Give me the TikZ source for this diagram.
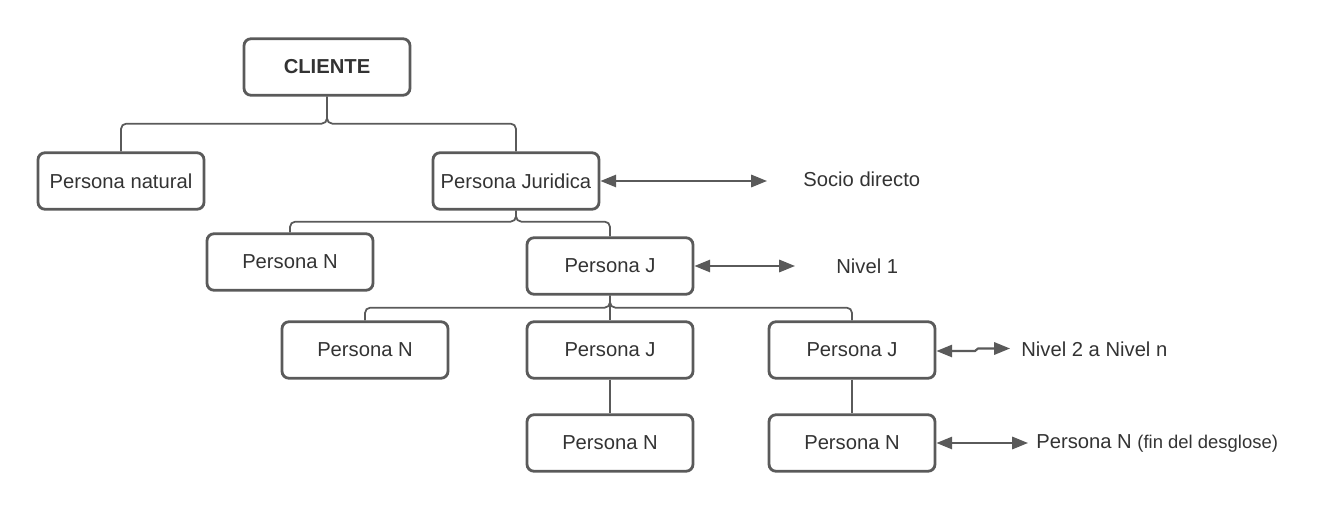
\documentclass[tikz,border=0pt]{standalone}
\usepackage{fontspec}
\setmainfont{Liberation Sans}
\usepackage{tikz}
\usetikzlibrary{arrows.meta}
\definecolor{linegray}{HTML}{5A5A5A}
\definecolor{textgray}{HTML}{333333}
\tikzset{
  box/.style = {rectangle, rounded corners=4pt, draw=linegray, line width=1.6pt,
    minimum width=3.32cm, minimum height=1.13cm, inner sep=0pt, text=textgray,
    font=\fontsize{11.5}{14}\selectfont},% node box
  lbl/.style = {anchor=west, inner sep=0pt, text=textgray,
    font=\fontsize{11.5}{14}\selectfont},% side label
  ln/.style = {draw=linegray, line width=1pt, rounded corners=3pt},
  dbl/.style = {draw=linegray, line width=1.2pt,
    {Triangle[length=9pt,width=7pt]}-{Triangle[length=9pt,width=7pt]}}
}
\begin{document}
\begin{tikzpicture}
\useasboundingbox (0,0) rectangle (26.62,-10.22);
% tree
\node [box, font=\fontsize{11.5}{14}\selectfont\bfseries] (cliente) at (6.54,-1.34) {CLIENTE};
\node [box] (natural) at (2.42,-3.62) {Persona natural};
\node [box] (juridica) at (10.32,-3.62) {Persona Juridica};
\node [box] (pn1) at (5.80,-5.24) {Persona N};
\node [box] (pj1) at (12.20,-5.32) {Persona J};
\node [box] (pn2) at (7.30,-7.00) {Persona N};
\node [box] (pj2) at (12.20,-7.00) {Persona J};
\node [box] (pj3) at (17.04,-7.00) {Persona J};
\node [box] (pn3) at (12.20,-8.86) {Persona N};
\node [box] (pn4) at (17.04,-8.86) {Persona N};

\draw [ln] (cliente.south) -- ++(0,-0.54) -| (natural.north);
\draw [ln] (cliente.south) -- ++(0,-0.54) -| (juridica.north);
\draw [ln] (juridica.south) -- ++(0,-0.22) -| (pn1.north);
\draw [ln] (juridica.south) -- ++(0,-0.22) -| (pj1.north);
\draw [ln] (pj1.south) -- ++(0,-0.24) -| (pn2.north);
\draw [ln] (pj1.south) -- (pj2.north);
\draw [ln] (pj1.south) -- ++(0,-0.24) -| (pj3.north);
\draw [ln] (pj2.south) -- (pn3.north);
\draw [ln] (pj3.south) -- (pn4.north);

% levels
\coordinate (e1) at (15.34,-3.62);
\coordinate (e2) at (15.90,-5.32);
\coordinate (j1) at (19.50,-7.02);
\coordinate (j2) at (19.56,-6.97);
\coordinate (e3) at (20.20,-6.97);
\coordinate (e4) at (20.56,-8.86);
\node [lbl] (socio) at (16.06,-3.58) {Socio directo};
\node [lbl] (nivel1) at (16.72,-5.32) {Nivel 1};
\node [lbl] (niveln) at (20.42,-6.98) {Nivel 2 a Nivel n};
\node [lbl] (fin) at (20.72,-8.86) {Persona N {\fontsize{10.5}{13}\selectfont(fin del desglose)}};
\draw [dbl] (juridica.east) -- (e1);
\draw [dbl] (pj1.east) -- (e2);
\draw [dbl] (pj3.east |- j1) -- (j1) -- (j2) -- (e3);
\draw [dbl] (pn4.east) -- (e4);
\end{tikzpicture}
\end{document}
